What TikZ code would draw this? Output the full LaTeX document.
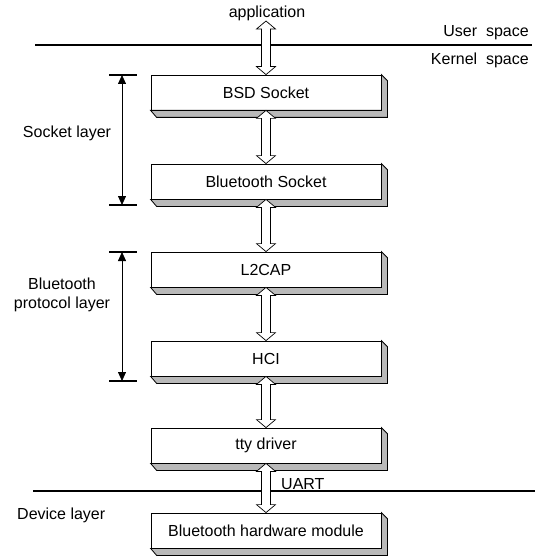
\documentclass[tikz,border=0pt]{standalone}
\usepackage{fontspec}
\setmainfont{Liberation Sans}
\usetikzlibrary{calc,arrows.meta}

\tikzset{
  layer/.style={draw=black, line width=0.8pt, fill=white, rectangle,
    minimum width=230pt, minimum height=35pt, inner sep=0pt},
  slab/.style={draw=black, line width=0.8pt, fill=gray!55},
  fatarrow/.style={draw=black, line width=0.7pt, fill=white, to path={
    let \p1=(\tikztostart), \p2=(\tikztotarget) in
    (\x1,\y1) -- (\x1+9.5pt,\y1-8pt) -- (\x1+4.5pt,\y1-8pt)
    -- (\x1+4.5pt,\y2+8pt) -- (\x1+9.5pt,\y2+8pt) -- (\x1,\y2)
    -- (\x1-9.5pt,\y2+8pt) -- (\x1-4.5pt,\y2+8pt)
    -- (\x1-4.5pt,\y1-8pt) -- (\x1-9.5pt,\y1-8pt) -- cycle}},
  sepline/.style={line width=1.6pt},
  dimline/.style={line width=0.8pt, {Triangle[length=9pt,width=8pt]}-{Triangle[length=9pt,width=8pt]}},
  dimtick/.style={line width=1.6pt},
  plain/.style={inner sep=0pt}
}

\begin{document}
\begin{tikzpicture}[x=1pt, y=-1pt, font=\fontsize{16}{18.5}\selectfont]
\useasboundingbox (0,0) rectangle (535,559);

% user / kernel / device boundaries
\draw[sepline] (35,45) -- (532,45);
\draw[sepline] (33,491) -- (535,491);
\node[plain, anchor=east] (user) at (529,33) {User\ \ space};
\node[plain, anchor=east] (kernel) at (529,60) {Kernel\ \ space};
\node[plain, anchor=west] (device) at (17,515) {Device layer};

% application entry point
\node[plain] (app) at (267,13) {application};
\coordinate (apptip) at (266,21);

% protocol stack
\node[layer] (bsd)    at (266,92.5)  {BSD Socket};
\node[layer] (btsock) at (266,181.5) {Bluetooth Socket};
\node[layer] (l2cap)  at (266,269.5) {L2CAP};
\node[layer] (hci)    at (266,358.5) {HCI};
\node[layer] (tty)    at (266,445.5) {tty driver};
\node[layer] (hw)     at (266,530.5) {Bluetooth hardware module};

% raised slab under each box
\foreach \n in {bsd,btsock,l2cap,hci,tty,hw}{
  \draw[slab] (\n.south west) -- ([shift={(6pt,-7pt)}]\n.south west)
    -- ([shift={(6pt,-7pt)}]\n.south east) -- ([shift={(6pt,-6pt)}]\n.north east)
    -- (\n.north east) -- (\n.south east) -- cycle;
}

% data paths between layers
\draw[fatarrow] (apptip) to (bsd.north);
\draw[fatarrow] (bsd.south) to (btsock.north);
\draw[fatarrow] (btsock.south) to (l2cap.north);
\draw[fatarrow] (l2cap.south) to (hci.north);
\draw[fatarrow] (hci.south) to (tty.north);
\draw[fatarrow] (tty.south) to (hw.north);
\node[plain, anchor=base west] (uart) at (281,489) {UART};

% layer extents
\coordinate (sltop) at (122,75);
\coordinate (slbot) at (122,205);
\coordinate (pltop) at (122,252);
\coordinate (plbot) at (122,381);
\draw[dimline] (sltop) -- (slbot);
\draw[dimline] (pltop) -- (plbot);
\foreach \c in {sltop,slbot,pltop,plbot}{
  \draw[dimtick] ([xshift=-13pt]\c) -- ([xshift=15pt]\c);
}
\node[plain] (socklabel) at (67,133) {Socket layer};
\node[plain, align=center] (protlabel) at (62,295) {Bluetooth\\protocol layer};
\end{tikzpicture}
\end{document}
